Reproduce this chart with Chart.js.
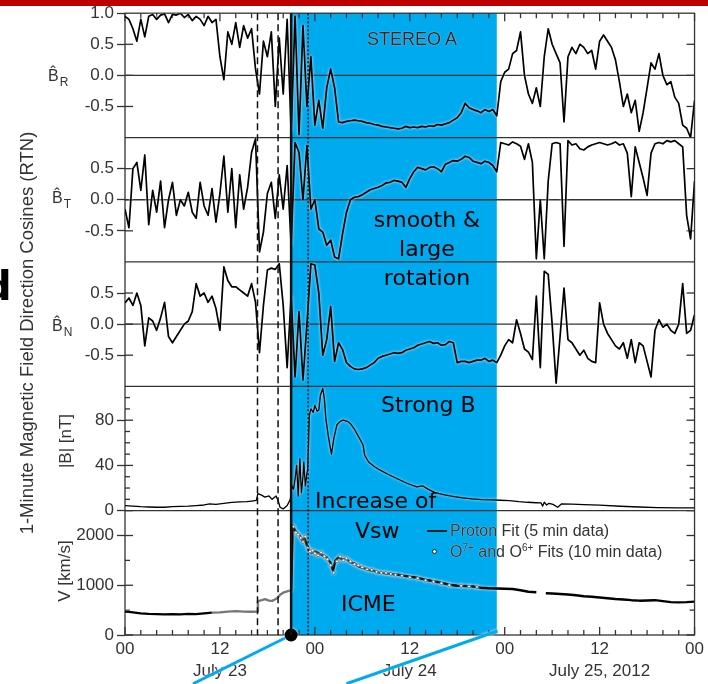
<!DOCTYPE html>
<html>
<head>
<meta charset="utf-8">
<script src="https://cdn.jsdelivr.net/npm/chart.js@4.4.1/dist/chart.umd.min.js"></script>
<style>
  html, body { margin: 0; padding: 0; background: #fff; }
  #wrap { position: relative; width: 708px; height: 684px; overflow: hidden; font-family: 'Liberation Sans', Arial, sans-serif; }
  #chart { position: absolute; left: 0; top: 0; }
  #topbar { position: absolute; left: 0; top: 0; width: 708px; height: 6px; background: #be0000; }
  .t { position: absolute; white-space: nowrap; line-height: 1; }
  .rot { transform: translate(-50%, -50%) rotate(-90deg); }
  .ytitle { font-size: 18.5px; color: #333; }
  .plabel { font-size: 16px; color: #333; }
  .plabel .sub { font-size: 12px; position: relative; top: 5px; margin-left: 1px; }
  .alabel { font-size: 17px; color: #333; }
  .note { font-family: 'DejaVu Sans', sans-serif; font-size: 22px; color: #000; }
  .stereo { font-size: 18px; color: #262626; text-shadow: 0 0 1px #fff; }
  .leg { font-size: 16px; color: #333; text-shadow: 0 0 1px #fff; }
  .leg sup { font-size: 10px; vertical-align: 6px; line-height: 0; }
  #bigd { font-family: 'DejaVu Sans', sans-serif; font-weight: bold; font-size: 40px; color: #000; left: -17px; top: 266px; }
  .legline { position: absolute; height: 2px; background: #222; }
  .legdot { position: absolute; width: 3px; height: 3px; border-radius: 50%; background: #fff; border: 1px solid #222; }
</style>
</head>
<body>
<div id="wrap">
  <canvas id="chart" width="708" height="684"></canvas>
  <div id="topbar"></div>
  <div class="t" id="bigd">d</div>

  <div class="t rot ytitle" style="left:27px; top:333px;">1-Minute Magnetic Field Direction Cosines (RTN)</div>
  <div class="t plabel" style="left:48px; top:68px;">B&#770;<span class="sub">R</span></div>
  <div class="t plabel" style="left:52px; top:190px;">B&#770;<span class="sub">T</span></div>
  <div class="t plabel" style="left:52px; top:318px;">B&#770;<span class="sub">N</span></div>
  <div class="t rot alabel" style="left:65px; top:441px;">|B| [nT]</div>
  <div class="t rot alabel" style="left:64px; top:571px;">V [km/s]</div>

  <div class="t stereo" style="left:367px; top:30px;">STEREO A</div>
  <div class="t note" style="left:427px; top:205px; line-height:29px; text-align:center; transform:translateX(-50%);">smooth &amp;<br>large<br>rotation</div>
  <div class="t note" style="left:381px; top:394px;">Strong B</div>
  <div class="t note" style="left:315px; top:490px;">Increase of</div>
  <div class="t note" style="left:355px; top:520px;">Vsw</div>
  <div class="t note" style="left:341px; top:593px;">ICME</div>

  <div class="legline" style="left:427px; top:530px; width:20px;"></div>
  <div class="t leg" style="left:450px; top:523px;">Proton Fit (5 min data)</div>
  <div class="legdot" style="left:432px; top:549px;"></div>
  <div class="t leg" style="left:450px; top:544px;">O<sup>7+</sup> and O<sup>6+</sup> Fits (10 min data)</div>
</div>

<script>
// 1-minute field direction cosines, resampled every half hour from 00 UT July 23
const brVals = [
  0.95, 0.9, 0.75, 0.55, 0.9, 0.62, 0.95, 0.98, 0.9, 0.97,
  0.99, 0.85, 0.98, 0.97, 1.0, 0.93, 0.98, 0.88, 0.95, 0.9,
  0.8, 0.95, 0.85, 0.9, 0.3, -0.07, 0.7, 0.5, 0.85, 0.45,
  0.8, 0.6, 0.75, 0.1, -0.3, 0.55, 0.3, 0.7, -0.5, 0.6,
  -0.3, 0.9, -0.9, 0.95, -0.95, 0.8, -0.5, 0.3, -0.8, -0.4,
  -0.85, -0.2, 0.1, -0.2, -0.75, -0.76, -0.74, -0.73, -0.72, -0.73,
  -0.74, -0.76, -0.77, -0.79, -0.8, -0.82, -0.83, -0.84, -0.85, -0.86,
  -0.85, -0.82, -0.84, -0.83, -0.84, -0.82, -0.83, -0.81, -0.82, -0.79,
  -0.8, -0.78, -0.76, -0.72, -0.68, -0.6, -0.45, -0.52, -0.55, -0.57,
  -0.6, -0.55, -0.58, -0.55, -0.65, -0.1, 0.05, 0.1, 0.35, 0.4,
  0.7, 0.0, -0.3, -0.45, -0.2, -0.5, 0.3, 0.75, 0.5, 0.35,
  0.2, -0.75, 0.3, 0.45, 0.35, 0.5, 0.45, 0.35, 0.4, 0.1,
  0.55, 0.65, 0.55, 0.45, 0.25, -0.1, -0.5, -0.3, -0.6, -0.4,
  -0.9, -0.6, -0.2, 0.2, 0.1, 0.35, 0.0, -0.15, -0.1, -0.35,
  -0.45, -0.8, -0.85, -1.0, -0.4
];
const btVals = [
  -0.15, -0.45, 0.5, 0.6, 0.15, 0.72, -0.4, 0.15, -0.2, 0.3,
  -0.45, 0.0, 0.28, -0.25, 0.0, -0.1, 0.12, -0.2, -0.3, 0.28,
  -0.1, -0.25, 0.18, -0.36, 0.1, 0.7, -0.2, 0.5, -0.45, 0.4,
  -0.15, 0.2, 0.76, 0.98, -0.84, -0.52, 0.1, 0.28, -0.3, 0.4,
  -0.15, 0.55, -0.73, 0.92, 0.76, 0.0, 0.87, -0.15, 0.0, -0.47,
  -0.52, -0.73, -0.65, -0.92, -0.95, -0.55, -0.2, 0.0, 0.04, 0.05,
  0.08, 0.12, 0.16, 0.18, 0.2, 0.23, 0.27, 0.28, 0.31, 0.3,
  0.28, 0.2, 0.34, 0.45, 0.52, 0.5, 0.48, 0.52, 0.53, 0.5,
  0.45, 0.57, 0.6, 0.63, 0.62, 0.65, 0.7, 0.68, 0.62, 0.6,
  0.58, 0.62, 0.6, 0.55, 0.45, 0.92, 0.9, 0.88, 0.93, 0.9,
  0.86, 0.65, 0.9, 0.6, -0.95, 0.0, -0.95, 0.3, 0.9, 0.92,
  0.9, -0.75, 0.95, 0.88, 0.9, 0.82, 0.8, 0.85, 0.88, 0.9,
  0.92, 0.9, 0.88, 0.9, 0.93, 0.88, 0.9, 0.75, 0.05, 0.85,
  0.6, 0.35, 0.07, 0.75, 0.9, 0.92, 0.9, 0.95, 0.93, 0.95,
  0.9, 0.85, -0.25, -0.63, 0.3
];
const bnVals = [
  0.34, 0.42, 0.3, 0.5, 0.3, -0.35, 0.1, 0.05, -0.1, 0.1,
  0.35, -0.2, -0.3, -0.2, -0.1, 0.0, 0.05, 0.2, 0.65, 0.45,
  0.5, 0.35, 0.45, 0.25, -0.1, 0.92, 0.7, 0.6, 0.6, 0.55,
  0.5, 0.45, 0.65, 0.35, -0.46, 0.3, 0.87, 0.9, 0.88, 0.97,
  0.3, -0.7, 0.45, -0.85, 0.2, -0.9, 0.0, 0.97, 0.95, 0.5,
  -0.5, -0.25, 0.28, -0.6, -0.3, -0.41, -0.62, -0.68, -0.72, -0.73,
  -0.72, -0.7, -0.66, -0.62, -0.55, -0.52, -0.5, -0.48, -0.46, -0.47,
  -0.46, -0.42, -0.4, -0.38, -0.34, -0.32, -0.3, -0.28, -0.31, -0.3,
  -0.34, -0.33, -0.28, -0.3, -0.62, -0.6, -0.6, -0.62, -0.6, -0.58,
  -0.58, -0.55, -0.6, -0.58, -0.62, -0.5, -0.35, -0.25, -0.3, 0.07,
  -0.15, -0.4, -0.45, -0.57, 0.45, -0.7, 0.85, 0.8, 0.0, -0.95,
  -0.2, 0.58, -0.25, -0.3, -0.4, -0.5, -0.42, -0.55, -0.6, -0.62,
  0.34, 0.0, -0.15, -0.25, -0.35, -0.4, -0.3, -0.55, -0.25, -0.62,
  -0.3, -0.35, -0.6, -0.85, -0.1, 0.07, -0.05, 0.0, -0.1, -0.15,
  0.0, 0.65, -0.15, -0.1, 0.15
];
const hours = Array.from({ length: brVals.length }, (_, i) => i * 0.5);

// field magnitude |B| in nT
const bTime = [
  0, 1, 2, 3, 4, 5, 6, 7, 8, 9, 10, 10.7, 11.5, 12.5, 13.5, 14.5, 15.4, 16, 16.6,
  16.8, 17.2, 17.7, 18.2, 18.6, 19.1, 19.4, 19.6, 20, 20.5, 20.9,
  21.1, 21.3, 21.5, 21.7, 21.9, 22.1, 22.3, 22.5, 22.6, 22.8, 23.0, 23.1,
  23.3, 23.5, 23.8, 24.0, 24.3, 24.5, 24.7, 25.0, 25.2, 25.4, 25.7, 25.9, 26.1, 26.4, 26.8,
  27.2, 27.6, 28.1, 28.5, 29.0, 29.4, 29.8, 30.1, 30.3, 30.8, 31.5, 32.2, 33.3, 34.5,
  35.7, 36.9, 37.6, 38.3, 39.2, 40.4, 41.6, 42.7, 43.9, 45.1, 46.3, 47.4, 48.6, 49.8,
  50.9, 52.0, 52.6, 52.8, 53.0, 53.3, 53.6, 54.1, 54.7, 55.2, 56.5, 58, 60, 62.6, 65, 67.3, 70, 72
];
const bVals = [
  4.5, 4, 3.5, 3.2, 3, 3, 3.5, 3.8, 4, 4.5, 5, 6, 5.5, 6.5, 7.4, 7.8, 8, 8.5, 9,
  15, 14, 12, 13, 10, 13, 8, 3, 1.5, 4.5, 10,
  22, 19, 28, 40, 13, 46, 16, 30, 43, 22, 33, 37,
  84, 90, 87, 93, 88, 89, 102, 108, 99, 81, 66, 58, 50, 64, 76,
  79, 80, 79, 77, 72, 67, 62, 58, 49, 43, 39, 36, 32, 28,
  24, 21, 22, 19, 16, 14, 12.4, 11.3, 10.4, 9.8, 9.5, 9.2, 8.9, 8,
  7.4, 7, 6.8, 4, 7.5, 5, 6.5, 5.5, 3, 6, 5.8, 5.3, 4.8, 3.9, 3.2, 2.7, 2.5, 2.4
];

// solar wind speed, proton fit (null = data gap)
const vTime = [
  0, 0.5, 1, 2, 3, 4, 5, 6, 7, 8, 9, 10, 11, 12, 13, 14, 15, 16, 16.7,
  16.8, 17.3, 17.7, 18.2, 18.6, 19.0, 19.3, 19.6, 20.0, 20.4, 20.8, 21.0,
  21.2, 21.5, 21.8, 22.1, 22.4, 22.7, 23.0, 23.3, 23.6, 24.0, 24.5, 25.0, 25.5,
  26.0, 26.3, 26.6, 27.0, 27.5, 28.0, 28.5, 29.0, 29.5, 30.0, 30.5, 31, 31.5,
  32, 33, 34, 35, 36, 37, 38, 39, 40, 41, 42, 43, 44, 45, 46, 47, 48, 49, 50, 51, 52.0,
  52.6, 53.2, 54, 55, 56, 57, 58, 59, 60, 61, 62, 63, 64, 65, 66, 67, 68, 69, 70, 71, 72
];
const vVals = [
  470, 465, 455, 435, 425, 420, 415, 420, 415, 425, 420, 435, 450, 455, 470, 480, 470, 468, 470,
  680, 700, 720, 690, 685, 720, 750, 810, 850, 870, 890, 880,
  2200, 2100, 2050, 2000, 1900, 1950, 1800, 1700, 1650, 1680, 1640, 1600, 1560,
  1450, 1300, 1500, 1560, 1520, 1530, 1460, 1440, 1380, 1350, 1330, 1300, 1290,
  1260, 1240, 1220, 1200, 1170, 1150, 1110, 1080, 1050, 1010, 990, 985, 975, 950, 940, 935, 930, 925, 900, 870, 860,
  null, 840, 835, 825, 815, 800, 780, 770, 755, 740, 725, 715, 700, 690, 695, 700, 680, 660, 655, 660, 670
];
// O7+/O6+ fit speeds (10 min data)
const oTime = [
  21.3, 21.6, 21.9, 22.2, 22.5, 22.8, 23.1, 23.4, 23.7, 24.0, 24.4, 24.8, 25.2, 25.6,
  26.0, 26.4, 26.8, 27.2, 27.6, 28.0, 28.5, 29.0, 29.5, 30.0, 30.6, 31.2, 31.8, 32.4,
  33.0, 33.6, 34.2, 35.0, 36.0, 37.0, 38.0, 39.0, 40.0, 41.0, 42.5, 43.5, 44.5
];
const oVals = [
  2180, 2060, 2020, 1950, 1870, 1980, 1760, 1680, 1700, 1640, 1600, 1660, 1580, 1520,
  1400, 1250, 1480, 1580, 1500, 1540, 1480, 1420, 1400, 1360, 1320, 1310, 1270, 1250,
  1250, 1230, 1210, 1190, 1160, 1140, 1100, 1070, 1040, 1000, 990, 975, 965
];

// ICME interval, event markers (hours from 00 UT July 23)
const icmeSpan = [21.0, 47.0];
const markerHours = [16.75, 19.35, 21.0, 23.15];
const markerDash = [[7, 4], [7, 4], [], [2, 2]];
const markerWidth = [1.5, 1.5, 2.5, 1.5];

// callout pointers leaving the speed panel: [hour, km/s]
const shockCallout = [[21.0, 0], [8.6, -980]];
const endCallout = [[47.1, 80], [28.0, -980]];

// axis labels
const hourLabels = ['00', '12', '00', '12', '00', '12', '00'];
const dayLabels = ['', 'July 23', '', 'July 24', '', 'July 25, 2012', ''];
const panelIds = ['yR', 'yT', 'yN', 'yB', 'yV'];
const labelTicks = {
  yR: [-0.5, 0, 0.5, 1],
  yT: [-0.5, 0, 0.5],
  yN: [-0.5, 0, 0.5],
  yB: [0, 40, 80],
  yV: [0, 1000, 2000]
};
const minorTicks = { yB: [10, 20, 30, 50, 60, 70, 90, 100], yV: [500, 1500] };

const SHADE = '#00aaee';
const INK = '#333';

Chart.defaults.font.family = "'Liberation Sans', Arial, Helvetica, sans-serif";
Chart.defaults.font.size = 17;
Chart.defaults.color = INK;

function pts(xs, ys) {
  return xs.map((x, i) => ({ x: x, y: ys[i] }));
}
function pairs(list) {
  return list.map(p => ({ x: p[0], y: p[1] }));
}

const trace = {
  type: 'line',
  borderColor: '#000',
  borderWidth: 1.7,
  borderJoinStyle: 'round',
  pointRadius: 0,
  tension: 0
};

function panelAxis(id, min, max, weight, decimals) {
  return {
    type: 'linear',
    position: 'left',
    stack: 'panels',
    stackWeight: 1,
    weight: weight,
    min: min,
    max: max,
    afterFit: s => { s.width = 125; },
    afterBuildTicks: s => { s.ticks = labelTicks[id].map(v => ({ value: v })); },
    border: { display: false },
    grid: { drawOnChartArea: false, tickLength: 8, tickWidth: 1.3, tickColor: INK },
    ticks: {
      padding: 3,
      autoSkip: false,
      color: INK,
      callback: v => v.toFixed(decimals)
    }
  };
}

const decor = {
  id: 'decor',
  beforeDraw(chart) {
    const { ctx, chartArea: a } = chart;
    const x = chart.scales.x;
    const x0 = x.getPixelForValue(icmeSpan[0]);
    const x1 = x.getPixelForValue(icmeSpan[1]);
    ctx.save();
    ctx.fillStyle = SHADE;
    ctx.fillRect(x0, a.top, x1 - x0, a.bottom - a.top);
    ctx.restore();
  },
  beforeDatasetsDraw(chart) {
    const { ctx, chartArea: a } = chart;
    const x = chart.scales.x;
    const seg = (x0, y0, x1, y1) => {
      ctx.beginPath();
      ctx.moveTo(x0, y0);
      ctx.lineTo(x1, y1);
      ctx.stroke();
    };
    ctx.save();
    ctx.strokeStyle = INK;
    ctx.lineWidth = 1.3;
    // zero lines of the direction cosines
    ['yR', 'yT', 'yN'].forEach(id => {
      const y = chart.scales[id].getPixelForValue(0);
      seg(a.left, y, a.right, y);
    });
    // panel separators and frame
    panelIds.slice(0, -1).forEach(id => {
      const y = chart.scales[id].bottom;
      seg(a.left, y, a.right, y);
    });
    ctx.strokeRect(a.left, a.top, a.right - a.left, a.bottom - a.top);
    // inward tick marks on both sides of every panel
    panelIds.forEach(id => {
      const s = chart.scales[id];
      labelTicks[id].forEach(v => {
        if (Math.abs(v) === 1) return;
        const y = s.getPixelForValue(v);
        seg(a.left, y, a.left + 8, y);
        seg(a.right - 8, y, a.right, y);
      });
      (minorTicks[id] || []).forEach(v => {
        const y = s.getPixelForValue(v);
        seg(a.left, y, a.left + 5, y);
        seg(a.right - 5, y, a.right, y);
      });
    });
    // time ticks every 2 h along the top and bottom
    for (let h = 0; h <= 72; h += 2) {
      const px = x.getPixelForValue(h);
      const len = h % 12 === 0 ? 8 : 5;
      seg(px, a.top, px, a.top + len);
      seg(px, a.bottom, px, a.bottom - len);
    }
    ctx.restore();
    // faint white rim around the traces
    ctx.shadowColor = 'rgba(255,255,255,0.9)';
    ctx.shadowBlur = 3;
  },
  afterDatasetsDraw(chart) {
    const { ctx, chartArea: a } = chart;
    const x = chart.scales.x;
    ctx.shadowColor = 'rgba(0,0,0,0)';
    ctx.shadowBlur = 0;
    ctx.save();
    ctx.strokeStyle = '#111';
    markerHours.forEach((h, i) => {
      const px = x.getPixelForValue(h);
      ctx.setLineDash(markerDash[i]);
      ctx.lineWidth = markerWidth[i];
      ctx.beginPath();
      ctx.moveTo(px, a.top);
      ctx.lineTo(px, a.bottom);
      ctx.stroke();
    });
    ctx.restore();
  }
};

new Chart(document.getElementById('chart'), {
  type: 'line',
  data: {
    datasets: [
      { type: 'scatter', data: [{ x: shockCallout[0][0], y: shockCallout[0][1] }], yAxisID: 'yV',
        pointRadius: 6.5, backgroundColor: '#000', borderWidth: 0, clip: false, order: -3 },
      { ...trace, data: pairs(shockCallout), yAxisID: 'yV', borderColor: SHADE, borderWidth: 3, clip: false, order: -2 },
      { ...trace, data: pairs(endCallout), yAxisID: 'yV', borderColor: SHADE, borderWidth: 3, clip: false, order: -2 },
      { type: 'scatter', data: pts(oTime, oVals), yAxisID: 'yV', pointRadius: 1.4,
        backgroundColor: '#fff', borderColor: '#333', borderWidth: 0.6, order: -1 },
      { ...trace, data: pts(hours, brVals), yAxisID: 'yR' },
      { ...trace, data: pts(hours, btVals), yAxisID: 'yT' },
      { ...trace, data: pts(hours, bnVals), yAxisID: 'yN' },
      { ...trace, data: pts(bTime, bVals), yAxisID: 'yB', borderWidth: 1.3 },
      { ...trace, data: pts(vTime, vVals), yAxisID: 'yV', borderWidth: 2.4,
        segment: { borderColor: c => (c.p0.parsed.x >= 10.5 && c.p1.parsed.x <= 21.0) ? '#777' : '#000' } }
    ]
  },
  options: {
    responsive: false,
    devicePixelRatio: 1,
    animation: false,
    events: [],
    layout: { padding: { top: 13, right: 10, left: 0, bottom: 0 } },
    plugins: { legend: { display: false }, tooltip: { enabled: false } },
    scales: {
      x: {
        type: 'linear',
        min: 0,
        max: 72,
        afterFit: s => { s.height = 49; },
        border: { display: false },
        grid: { display: false, drawTicks: false },
        ticks: {
          stepSize: 12,
          padding: 4,
          maxRotation: 0,
          autoSkip: false,
          color: INK,
          font: { size: 17, lineHeight: 1.25 },
          callback: v => {
            const i = Math.round(v / 12);
            return dayLabels[i] ? [hourLabels[i], dayLabels[i]] : hourLabels[i];
          }
        }
      },
      yR: panelAxis('yR', -1, 1, 5, 1),
      yT: panelAxis('yT', -1, 1, 4, 1),
      yN: panelAxis('yN', -1, 1, 3, 1),
      yB: panelAxis('yB', 0, 110, 2, 0),
      yV: panelAxis('yV', 0, 2500, 1, 0)
    }
  },
  plugins: [decor]
});
</script>
</body>
</html>
